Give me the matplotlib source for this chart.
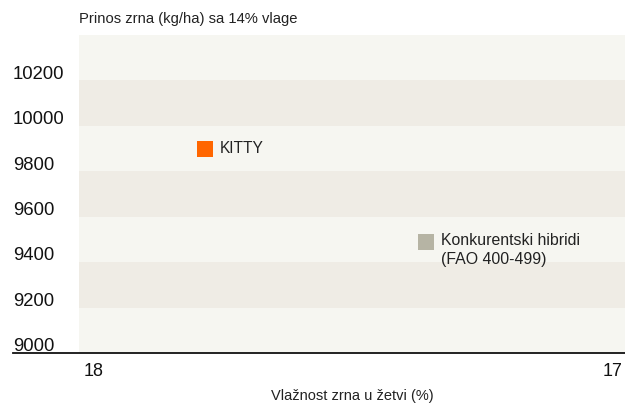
import matplotlib.pyplot as plt
from matplotlib.lines import Line2D
from matplotlib import transforms

# --- data ---
hybrids = ['KITTY', 'Konkurentski hibridi\n(FAO 400-499)']
moisture = [17.77, 17.365]         # Vlažnost zrna u žetvi (%)
yield_kg = [9900, 9490]            # Prinos zrna (kg/ha)
colors = ['#ff6600', '#b6b4a4']

y_ticks = [9000, 9200, 9400, 9600, 9800, 10000, 10200]
x_ticks = [18, 17]

plt.rcParams['font.family'] = ['Liberation Sans', 'DejaVu Sans']

fig = plt.figure(figsize=(6.25, 4.04), dpi=100)
ax = fig.add_axes([79 / 625, 51 / 404, 546 / 625, 318 / 404])
ax.set_xlim(18, 17)
ax.set_ylim(9000, 10400)

# alternating background bands
band_edges = y_ticks + [10400]
for i in range(len(band_edges) - 1):
    c = '#f6f6f1' if i % 2 == 0 else '#efece5'
    ax.axhspan(band_edges[i], band_edges[i + 1], color=c, lw=0, zorder=0)

for s in ax.spines.values():
    s.set_visible(False)
ax.set_xticks([])
ax.set_yticks([])

# y tick labels sit just above their grid value, left aligned at figure edge
trans_y = transforms.blended_transform_factory(fig.transFigure, ax.transData)
for v in y_ticks:
    ax.annotate(str(v), xy=(13 / 625, v), xycoords=trans_y,
                xytext=(0, 1.2), textcoords='offset points',
                ha='left', va='baseline', fontsize=13.3, color='#111111',
                annotation_clip=False)

# x tick labels inside the axis ends
trans_x = transforms.blended_transform_factory(ax.transData, ax.transAxes)
ax.annotate(str(x_ticks[0]), xy=(x_ticks[0], 0), xycoords=trans_x,
            xytext=(3, -7), textcoords='offset points',
            ha='left', va='top', fontsize=13, color='#111111', annotation_clip=False)
ax.annotate(str(x_ticks[1]), xy=(x_ticks[1], 0), xycoords=trans_x,
            xytext=(-2, -7), textcoords='offset points',
            ha='right', va='top', fontsize=13, color='#111111', annotation_clip=False)

# baseline running under the y labels
fig.add_artist(Line2D([13 / 625, 1.0], [51 / 404, 51 / 404], color='#111111', lw=1.3))

# points with labels
for name, x, y, c in zip(hybrids, moisture, yield_kg, colors):
    ax.scatter([x], [y], marker='s', s=132, color=c, edgecolors='none', zorder=3)
    if '\n' in name:
        ax.annotate(name, xy=(x, y), xytext=(11, 6), textcoords='offset points',
                    ha='left', va='top', fontsize=11.4, color='#222222',
                    linespacing=1.33, zorder=4)
    else:
        ax.annotate(name, xy=(x, y), xytext=(11, 0), textcoords='offset points',
                    ha='left', va='center', fontsize=11.2, color='#222222', zorder=4)

fig.text(79 / 625, 1 - 19 / 404, 'Prinos zrna (kg/ha) sa 14% vlage',
         ha='left', va='center', fontsize=10.6, color='#222222')
fig.text(352 / 625, 1 - 396 / 404, 'Vlažnost zrna u žetvi (%)',
         ha='center', va='center', fontsize=10.5, color='#222222')

fig.savefig('out.png', dpi=100)
